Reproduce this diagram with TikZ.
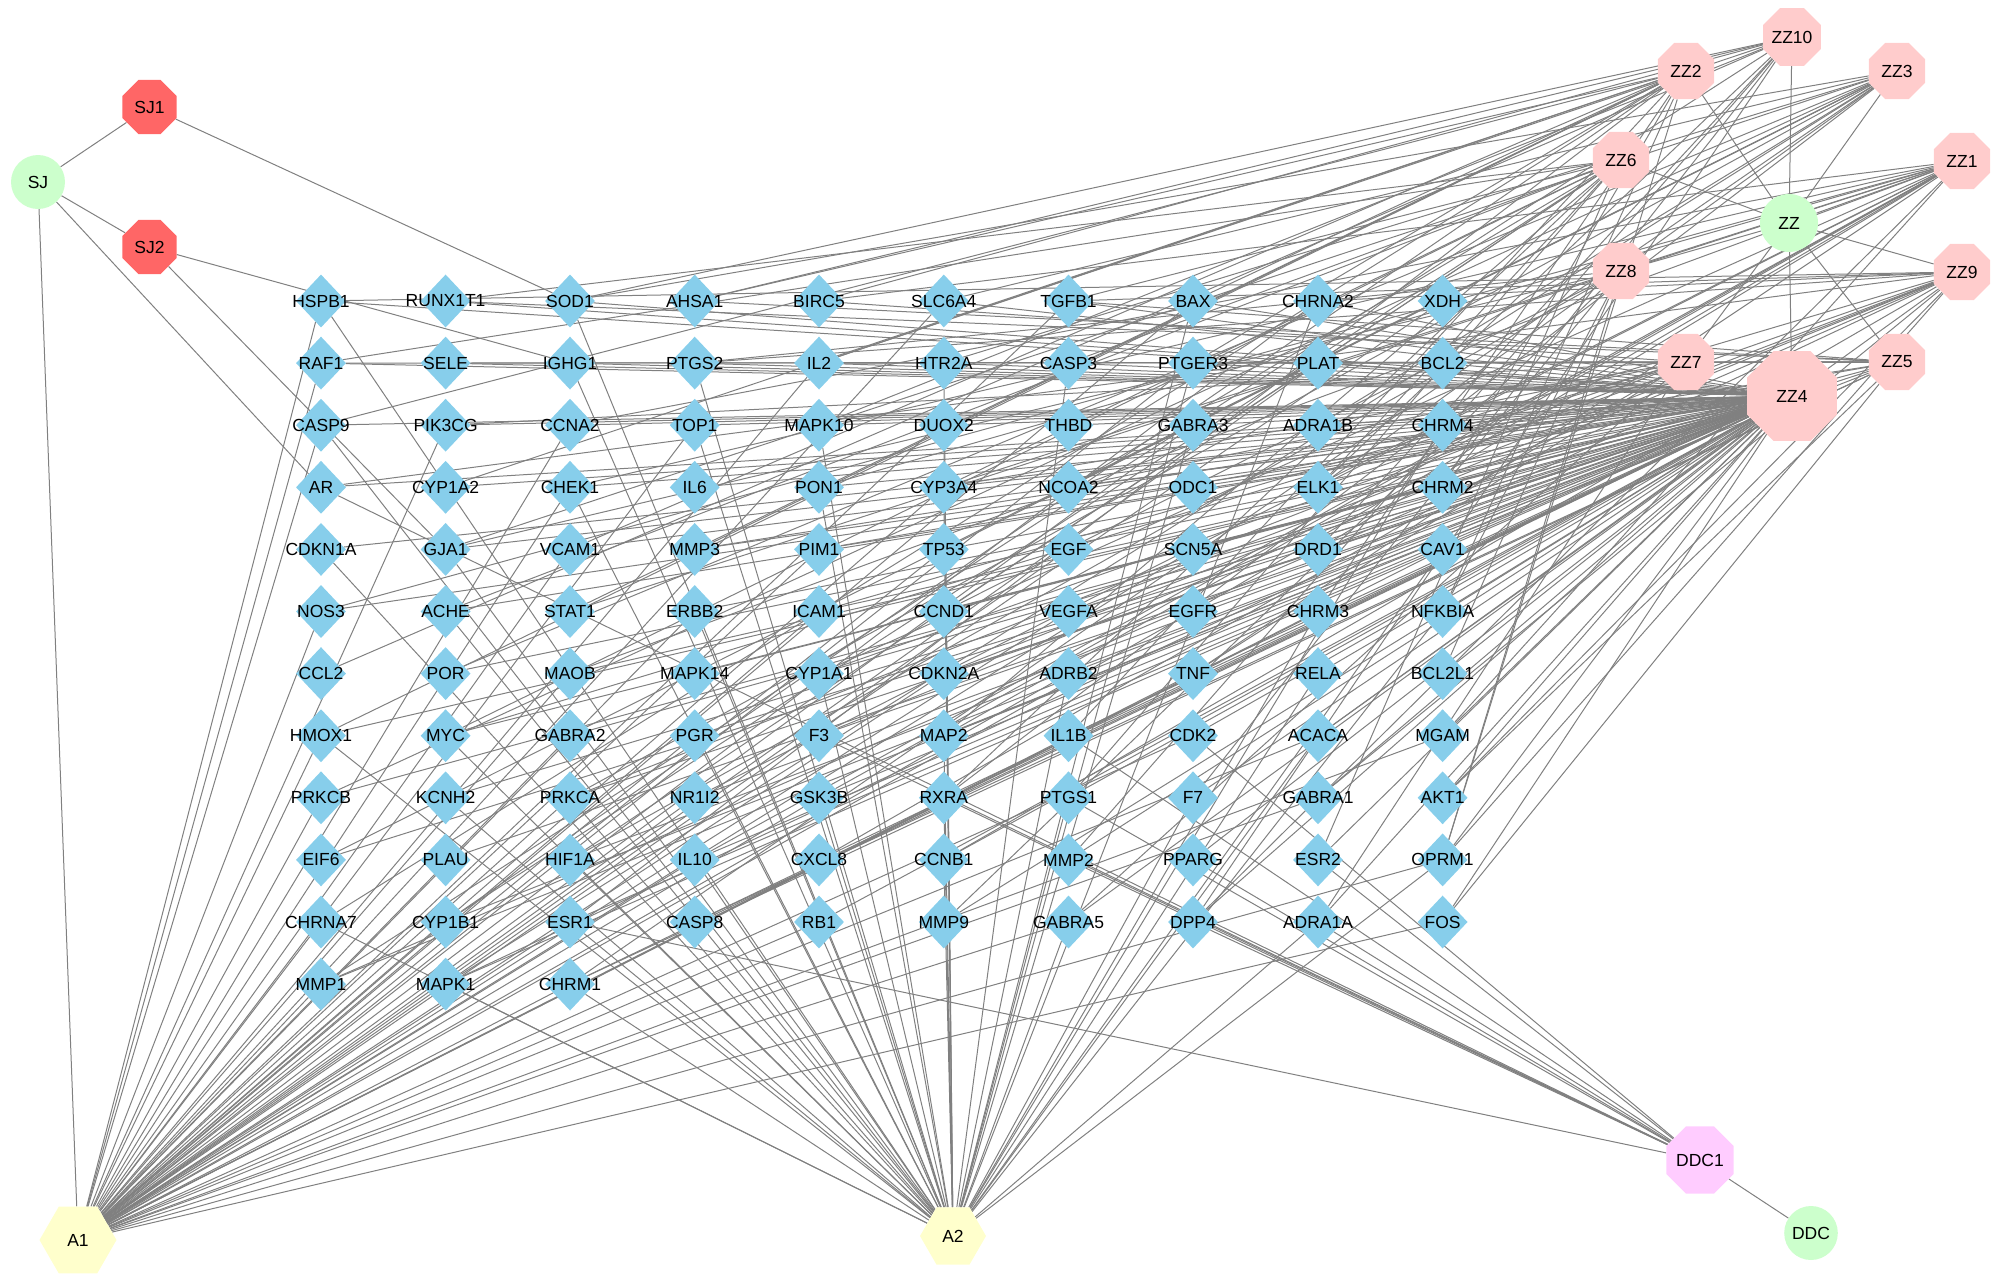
\documentclass[tikz,border=0pt]{standalone}
\usepackage{fontspec}
\setmainfont{Liberation Sans}
\usetikzlibrary{shapes.geometric,backgrounds}
\definecolor{genec}{RGB}{135,206,235}
\definecolor{sjred}{RGB}{255,102,102}
\definecolor{zzpink}{RGB}{255,204,204}
\definecolor{herbgreen}{RGB}{204,255,204}
\definecolor{comyel}{RGB}{255,255,204}
\definecolor{ddcpink}{RGB}{255,204,255}
\definecolor{edgegray}{RGB}{128,128,128}
\tikzset{
  lbl/.style={font=\fontsize{17.5}{20}\selectfont, inner sep=0pt, text=black},
  gene/.style={diamond, fill=genec, inner sep=0pt, minimum width=50pt, minimum height=53pt, label={[lbl]center:#1}},
  octo/.style={regular polygon, regular polygon sides=8, inner sep=0pt, minimum size=#1, lbl},
  hexa/.style={regular polygon, regular polygon sides=6, inner sep=0pt, minimum size=#1, fill=comyel, lbl},
  herb/.style={ellipse, inner sep=0pt, fill=herbgreen, lbl},
  edge/.style={draw=edgegray, line width=1pt}
}
\newcommand\genecol[2]{\foreach \n [count=\k from 0] in {#2} {\node[gene=\n] (\n) at (#1,{301+62.1*\k}) {};}}
\def\allgenes{HSPB1,RAF1,CASP9,AR,CDKN1A,NOS3,CCL2,HMOX1,PRKCB,EIF6,CHRNA7,MMP1,RUNX1T1,SELE,PIK3CG,CYP1A2,GJA1,ACHE,POR,MYC,KCNH2,PLAU,CYP1B1,MAPK1,SOD1,IGHG1,CCNA2,CHEK1,VCAM1,STAT1,MAOB,GABRA2,PRKCA,HIF1A,ESR1,CHRM1,AHSA1,PTGS2,TOP1,IL6,MMP3,ERBB2,MAPK14,PGR,NR1I2,IL10,CASP8,BIRC5,IL2,MAPK10,PON1,PIM1,ICAM1,CYP1A1,F3,GSK3B,CXCL8,RB1,SLC6A4,HTR2A,DUOX2,CYP3A4,TP53,CCND1,CDKN2A,MAP2,RXRA,CCNB1,MMP9,TGFB1,CASP3,THBD,NCOA2,EGF,VEGFA,ADRB2,IL1B,PTGS1,MMP2,GABRA5,BAX,PTGER3,GABRA3,ODC1,SCN5A,EGFR,TNF,CDK2,F7,PPARG,DPP4,CHRNA2,PLAT,ADRA1B,ELK1,DRD1,CHRM3,RELA,ACACA,GABRA1,ESR2,ADRA1A,XDH,BCL2,CHRM4,CHRM2,CAV1,NFKBIA,BCL2L1,MGAM,AKT1,OPRM1,FOS}
\begin{document}
\begin{tikzpicture}[x=1pt,y=-1pt]
\useasboundingbox (0,0) rectangle (2000,1285);
% target genes
\genecol{321}{HSPB1,RAF1,CASP9,AR,CDKN1A,NOS3,CCL2,HMOX1,PRKCB,EIF6,CHRNA7,MMP1}
\genecol{445.6}{RUNX1T1,SELE,PIK3CG,CYP1A2,GJA1,ACHE,POR,MYC,KCNH2,PLAU,CYP1B1,MAPK1}
\genecol{570}{SOD1,IGHG1,CCNA2,CHEK1,VCAM1,STAT1,MAOB,GABRA2,PRKCA,HIF1A,ESR1,CHRM1}
\genecol{694.7}{AHSA1,PTGS2,TOP1,IL6,MMP3,ERBB2,MAPK14,PGR,NR1I2,IL10,CASP8}
\genecol{819}{BIRC5,IL2,MAPK10,PON1,PIM1,ICAM1,CYP1A1,F3,GSK3B,CXCL8,RB1}
\genecol{943.8}{SLC6A4,HTR2A,DUOX2,CYP3A4,TP53,CCND1,CDKN2A,MAP2,RXRA,CCNB1,MMP9}
\genecol{1068.5}{TGFB1,CASP3,THBD,NCOA2,EGF,VEGFA,ADRB2,IL1B,PTGS1,MMP2,GABRA5}
\genecol{1193}{BAX,PTGER3,GABRA3,ODC1,SCN5A,EGFR,TNF,CDK2,F7,PPARG,DPP4}
\genecol{1318}{CHRNA2,PLAT,ADRA1B,ELK1,DRD1,CHRM3,RELA,ACACA,GABRA1,ESR2,ADRA1A}
\genecol{1442.6}{XDH,BCL2,CHRM4,CHRM2,CAV1,NFKBIA,BCL2L1,MGAM,AKT1,OPRM1,FOS}
% herbs and compounds
\node[herb, minimum width=54pt, minimum height=54pt] (SJ) at (38,182) {SJ};
\node[octo=58.5pt, fill=sjred] (SJ1) at (149.5,107) {SJ1};
\node[octo=58.5pt, fill=sjred] (SJ2) at (149.5,247) {SJ2};
\node[hexa=77pt] (A1) at (78,1240) {A1};
\node[hexa=66pt] (A2) at (953,1236) {A2};
\node[octo=60pt, fill=ddcpink] (DDC1) at (1700,1160) {DDC1};
\node[herb, minimum width=50pt, minimum height=54pt] (DDC) at (1811,1233) {DDC};
\node[herb, minimum width=58pt, minimum height=58pt] (ZZ) at (1789,223) {ZZ};
\node[octo=61pt, fill=zzpink] (ZZ10) at (1792,37) {ZZ10};
\node[octo=61pt, fill=zzpink] (ZZ2) at (1686,71) {ZZ2};
\node[octo=61pt, fill=zzpink] (ZZ3) at (1897,71) {ZZ3};
\node[octo=61pt, fill=zzpink] (ZZ6) at (1621,160) {ZZ6};
\node[octo=61pt, fill=zzpink] (ZZ1) at (1962,161) {ZZ1};
\node[octo=61pt, fill=zzpink] (ZZ8) at (1621,271) {ZZ8};
\node[octo=61pt, fill=zzpink] (ZZ9) at (1962,272) {ZZ9};
\node[octo=61pt, fill=zzpink] (ZZ7) at (1686,362) {ZZ7};
\node[octo=61pt, fill=zzpink] (ZZ5) at (1897,362) {ZZ5};
\node[octo=97pt, fill=zzpink] (ZZ4) at (1792,396) {ZZ4};
% connectors
\begin{pgfonlayer}{background}
\foreach \a/\b in {SJ/SJ1,SJ/SJ2,SJ/A1,SJ/AR,SJ1/SOD1,SJ2/IGHG1,SJ2/GJA1,DDC/DDC1,
  ZZ/ZZ1,ZZ/ZZ2,ZZ/ZZ3,ZZ/ZZ4,ZZ/ZZ5,ZZ/ZZ6,ZZ/ZZ7,ZZ/ZZ8,ZZ/ZZ9,ZZ/ZZ10,
  DDC1/AR,DDC1/ESR1,DDC1/RXRA,DDC1/F3,DDC1/PTGS1,DDC1/MMP2,DDC1/PPARG,DDC1/DPP4,DDC1/ESR2,DDC1/ADRA1A,DDC1/CDK2,DDC1/IL1B}
  {\draw[edge] (\a) -- (\b);}
\pgfmathsetseed{20240}
\foreach \g in \allgenes {
  \foreach \h/\p in {A1/0.55,A2/0.42,ZZ4/0.88,ZZ1/0.15,ZZ2/0.17,ZZ3/0.15,ZZ5/0.17,ZZ6/0.13,ZZ7/0.13,ZZ8/0.13,ZZ9/0.15,ZZ10/0.13} {
    \pgfmathtruncatemacro\r{rnd<\p}
    \ifnum\r=1 \draw[edge] (\h) -- (\g);\fi
  }
}
\end{pgfonlayer}
\end{tikzpicture}
\end{document}
